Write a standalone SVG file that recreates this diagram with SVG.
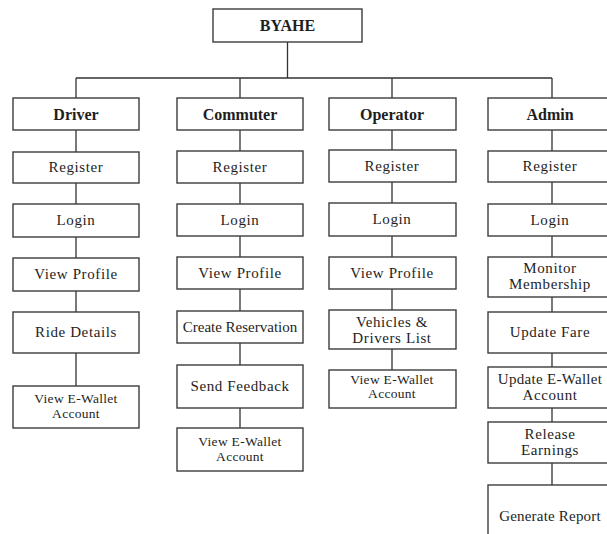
<svg xmlns="http://www.w3.org/2000/svg" width="607" height="534" viewBox="0 0 607 534">
  <style>
    .box { fill: #ffffff; stroke: #3c3c3c; stroke-width: 1.4; }
    .link { fill: none; stroke: #333333; stroke-width: 1.3; }
    text { font-family: "Liberation Serif", "Times New Roman", serif; fill: #1e1e1e; text-anchor: middle; }
    .head { font-size: 16px; font-weight: bold; }
    .item { font-size: 15px; letter-spacing: 0.6px; }
    .small { font-size: 13.5px; letter-spacing: 0.3px; }
  </style>
  <rect width="607" height="534" fill="#ffffff"/>

  <!-- connectors -->
  <g id="connectors" class="link">
    <path d="M287.5 42 V78 M76 78 H552 M76 78 V98 M240 78 V98 M392 78 V98 M552 78 V98"/>
    <!-- Driver column -->
    <path d="M76 130 V152 M76 183 V204 M76 237 V258 M76 291 V312 M76 353 V386"/>
    <!-- Commuter column -->
    <path d="M240 130 V151 M240 183 V204 M240 236 V257 M240 289 V311 M240 343 V365 M240 408 V428"/>
    <!-- Operator column -->
    <path d="M392 130 V150 M392 182 V203 M392 236 V257 M392 289 V310 M392 349 V370"/>
    <!-- Admin column -->
    <path d="M552 130 V151 M552 182 V204 M552 236 V257 M552 297 V312 M552 353 V367 M552 408 V422 M552 463 V485"/>
  </g>

  <g id="root">
    <rect class="box" x="213" y="9" width="149" height="33"/>
    <text class="head" x="287.5" y="31">BYAHE</text>
  </g>

  <!-- Driver -->
  <g id="driver">
    <rect class="box" x="13" y="98" width="126" height="32"/>
    <text class="head" x="76" y="120">Driver</text>
  </g>
  <g id="driver-register">
    <rect class="box" x="13" y="152" width="126" height="31"/>
    <text class="item" x="76" y="172">Register</text>
  </g>
  <g id="driver-login">
    <rect class="box" x="13" y="204" width="126" height="33"/>
    <text class="item" x="76" y="225">Login</text>
  </g>
  <g id="driver-profile">
    <rect class="box" x="13" y="258" width="126" height="33"/>
    <text class="item" x="76" y="279">View Profile</text>
  </g>
  <g id="driver-ride">
    <rect class="box" x="13" y="312" width="126" height="41"/>
    <text class="item" x="76" y="337">Ride Details</text>
  </g>
  <g id="driver-wallet">
    <rect class="box" x="13" y="386" width="126" height="42"/>
    <text class="small" x="76" y="403">View E-Wallet</text>
    <text class="small" x="76" y="418">Account</text>
  </g>

  <!-- Commuter -->
  <g id="commuter">
    <rect class="box" x="177" y="98" width="126" height="32"/>
    <text class="head" x="240" y="120">Commuter</text>
  </g>
  <g id="commuter-register">
    <rect class="box" x="177" y="151" width="126" height="32"/>
    <text class="item" x="240" y="172">Register</text>
  </g>
  <g id="commuter-login">
    <rect class="box" x="177" y="204" width="126" height="32"/>
    <text class="item" x="240" y="225">Login</text>
  </g>
  <g id="commuter-profile">
    <rect class="box" x="177" y="257" width="126" height="32"/>
    <text class="item" x="240" y="278">View Profile</text>
  </g>
  <g id="commuter-reservation">
    <rect class="box" x="177" y="311" width="126" height="32"/>
    <text class="item" x="240" y="332" style="letter-spacing:0">Create Reservation</text>
  </g>
  <g id="commuter-feedback">
    <rect class="box" x="177" y="365" width="126" height="43"/>
    <text class="item" x="240" y="391">Send Feedback</text>
  </g>
  <g id="commuter-wallet">
    <rect class="box" x="177" y="428" width="126" height="43"/>
    <text class="small" x="240" y="446">View E-Wallet</text>
    <text class="small" x="240" y="461">Account</text>
  </g>

  <!-- Operator -->
  <g id="operator">
    <rect class="box" x="329" y="98" width="127" height="32"/>
    <text class="head" x="392" y="120">Operator</text>
  </g>
  <g id="operator-register">
    <rect class="box" x="329" y="150" width="127" height="32"/>
    <text class="item" x="392" y="171">Register</text>
  </g>
  <g id="operator-login">
    <rect class="box" x="329" y="203" width="127" height="33"/>
    <text class="item" x="392" y="224">Login</text>
  </g>
  <g id="operator-profile">
    <rect class="box" x="329" y="257" width="127" height="32"/>
    <text class="item" x="392" y="278">View Profile</text>
  </g>
  <g id="operator-list">
    <rect class="box" x="329" y="310" width="127" height="39"/>
    <text class="item" x="392" y="327">Vehicles &amp;</text>
    <text class="item" x="392" y="343">Drivers List</text>
  </g>
  <g id="operator-wallet">
    <rect class="box" x="329" y="370" width="127" height="38"/>
    <text class="small" x="392" y="384">View E-Wallet</text>
    <text class="small" x="392" y="398">Account</text>
  </g>

  <!-- Admin -->
  <g id="admin">
    <rect class="box" x="488" y="98" width="128" height="32"/>
    <text class="head" x="550" y="120">Admin</text>
  </g>
  <g id="admin-register">
    <rect class="box" x="488" y="151" width="128" height="31"/>
    <text class="item" x="550" y="171">Register</text>
  </g>
  <g id="admin-login">
    <rect class="box" x="488" y="204" width="128" height="32"/>
    <text class="item" x="550" y="225">Login</text>
  </g>
  <g id="admin-membership">
    <rect class="box" x="488" y="257" width="128" height="40"/>
    <text class="item" x="550" y="273">Monitor</text>
    <text class="item" x="550" y="289">Membership</text>
  </g>
  <g id="admin-fare">
    <rect class="box" x="488" y="312" width="128" height="41"/>
    <text class="item" x="550" y="337">Update Fare</text>
  </g>
  <g id="admin-wallet">
    <rect class="box" x="488" y="367" width="128" height="41"/>
    <text class="item" x="550" y="384" style="letter-spacing:0.3px">Update E-Wallet</text>
    <text class="item" x="550" y="400">Account</text>
  </g>
  <g id="admin-earnings">
    <rect class="box" x="488" y="422" width="128" height="41"/>
    <text class="item" x="550" y="439">Release</text>
    <text class="item" x="550" y="455">Earnings</text>
  </g>
  <g id="admin-report">
    <rect class="box" x="488" y="485" width="128" height="60"/>
    <text class="item" x="550" y="521" style="letter-spacing:0.2px">Generate Report</text>
  </g>
</svg>
